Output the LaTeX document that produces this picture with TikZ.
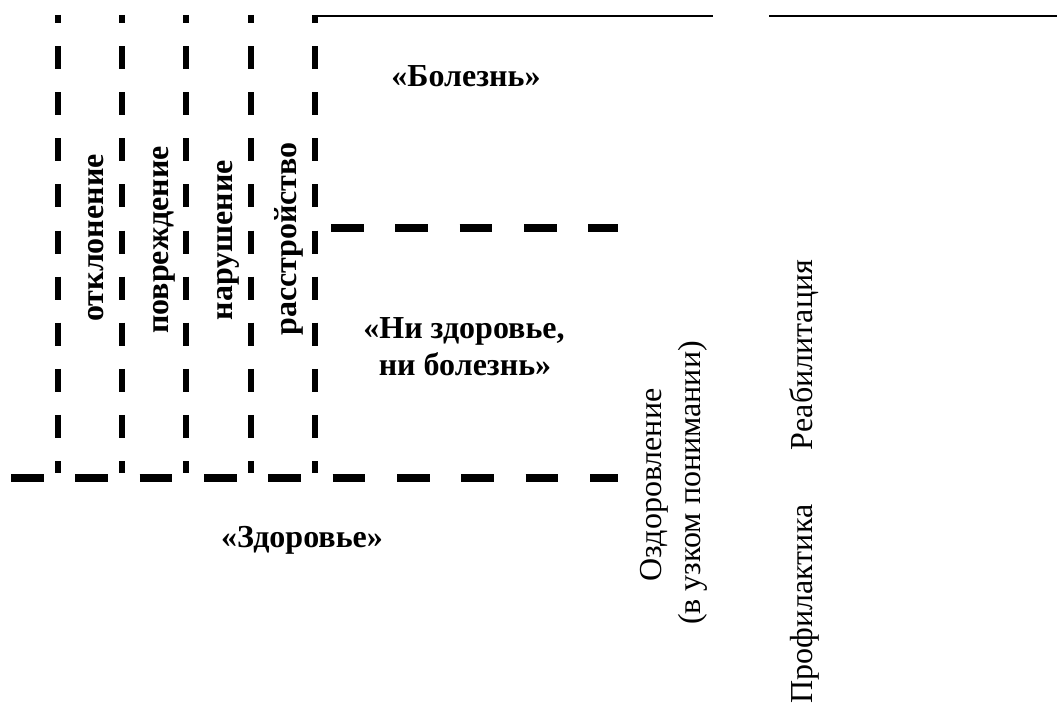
\documentclass[tikz,border=0pt]{standalone}
\usepackage{fontspec}
\setmainfont{Liberation Serif}
\begin{document}
\begin{tikzpicture}[x=0.75pt,y=-0.75pt,
  vline/.style={line width=4.5pt, line cap=butt, dash pattern=on 17.25pt off 17.33pt, dash phase=11.25pt},
  hline/.style={line width=6pt, line cap=butt, dash pattern=on 24.4pt off 23.85pt},
  solidline/.style={line width=1.8pt, line cap=butt},
  boldlbl/.style={inner sep=0pt, font=\fontsize{24}{27.6}\selectfont\bfseries},
  plainlbl/.style={inner sep=0pt, font=\fontsize{24}{27.6}\selectfont}]
\useasboundingbox (0,0) rectangle (1057,709);

% vertical dashed separators
\coordinate (v1t) at (58,15);  \coordinate (v1b) at (58,473);
\coordinate (v2t) at (122,15); \coordinate (v2b) at (122,473);
\coordinate (v3t) at (186,15); \coordinate (v3b) at (186,473);
\coordinate (v4t) at (251,15); \coordinate (v4b) at (251,473);
\coordinate (v5t) at (315,15); \coordinate (v5b) at (315,473);
\foreach \i in {1,...,5} \draw[vline] (v\i t) -- (v\i b);

% horizontal dashed lines
\coordinate (h1l) at (11,477.5); \coordinate (h1r) at (618,477.5);
\coordinate (h2l) at (331,228);  \coordinate (h2r) at (618,228);
\draw[hline] (h1l) -- (h1r);
\draw[hline] (h2l) -- (h2r);

% top solid lines
\coordinate (t1l) at (312,16); \coordinate (t1r) at (713,16);
\coordinate (t2l) at (769,16); \coordinate (t2r) at (1057,16);
\draw[solidline] (t1l) -- (t1r);
\draw[solidline] (t2l) -- (t2r);

% zone labels
\node[boldlbl, anchor=base] (bolezn) at (466,87) {«Болезнь»};
\node[boldlbl, anchor=base] (ni1) at (464,339) {«Ни здоровье,};
\node[boldlbl, anchor=base] (ni2) at (465,376) {ни болезнь»};
\node[boldlbl, anchor=base] (zdorovie) at (302,547) {«Здоровье»};

% vertical bold labels
\node[boldlbl, rotate=90, anchor=base] (otk) at (103,238) {отклонение};
\node[boldlbl, rotate=90, anchor=base] (povr) at (168,240) {повреждение};
\node[boldlbl, rotate=90, anchor=base] (nar) at (232,240) {нарушение};
\node[boldlbl, rotate=90, anchor=base] (rasstr) at (296,239) {расстройство};

% vertical plain labels
\node[plainlbl, rotate=90, anchor=base] (ozd1) at (661,485) {Оздоровление};
\node[plainlbl, rotate=90, anchor=base] (ozd2) at (700,483) {(в узком понимании)};
\node[plainlbl, rotate=90, anchor=base] (reab) at (812,355) {Реабилитация};
\node[plainlbl, rotate=90, anchor=base] (prof) at (812,604) {Профилактика};
\end{tikzpicture}
\end{document}
